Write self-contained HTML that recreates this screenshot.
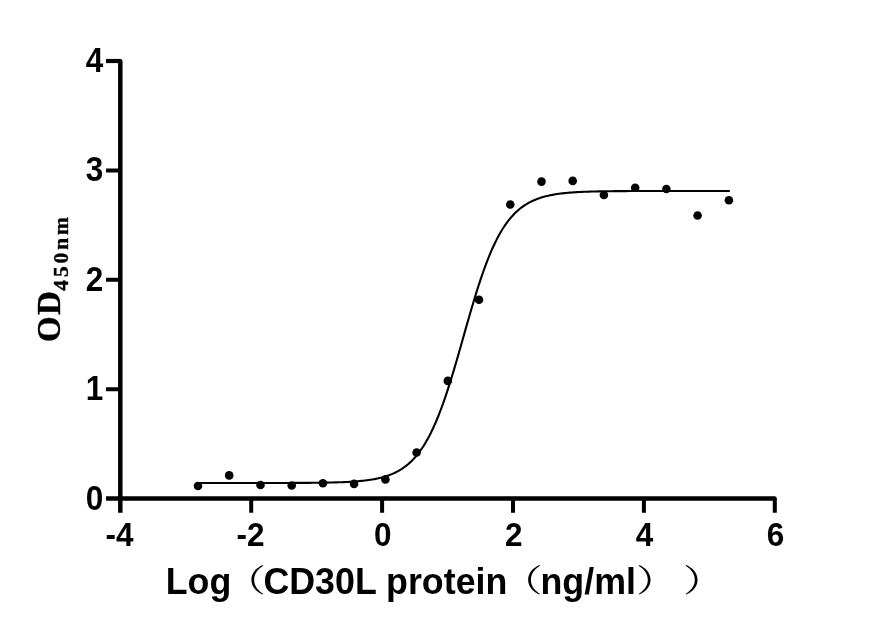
<!DOCTYPE html>
<html><head><meta charset="utf-8"><title>CD30L binding curve</title>
<style>
html,body{margin:0;padding:0;background:#fff;}
body{width:875px;height:633px;overflow:hidden;}
svg{display:block;}
.a{font-family:"Liberation Sans",sans-serif;font-weight:bold;font-size:31.5px;fill:#000;}
.t{font-size:35.8px;}
.p{font-family:"Noto Serif CJK SC","Noto Sans CJK SC",serif;font-weight:normal;font-size:31.6px;fill:#000;}
.s{font-family:"Liberation Serif",serif;font-weight:bold;font-size:33px;fill:#000;stroke:#000;stroke-width:0.35px;}
.sub{font-size:21.5px;letter-spacing:2.9px;}
</style></head><body>
<svg width="875" height="633" viewBox="0 0 875 633">
<rect width="875" height="633" fill="#fff"/>
<path d="M197.88,483.00 L199.66,483.00 L201.44,483.00 L203.22,483.00 L204.99,483.00 L206.77,483.00 L208.55,483.00 L210.33,483.00 L212.11,483.00 L213.89,483.00 L215.67,483.00 L217.45,483.00 L219.23,483.00 L221.01,483.00 L222.79,483.00 L224.56,483.00 L226.34,483.00 L228.12,483.00 L229.90,483.00 L231.68,483.00 L233.46,483.00 L235.24,482.99 L237.02,482.99 L238.80,482.99 L240.58,482.99 L242.36,482.99 L244.14,482.99 L245.91,482.99 L247.69,482.99 L249.47,482.99 L251.25,482.99 L253.03,482.99 L254.81,482.99 L256.59,482.99 L258.37,482.99 L260.15,482.98 L261.93,482.98 L263.71,482.98 L265.48,482.98 L267.26,482.98 L269.04,482.98 L270.82,482.97 L272.60,482.97 L274.38,482.97 L276.16,482.97 L277.94,482.96 L279.72,482.96 L281.50,482.96 L283.28,482.95 L285.05,482.95 L286.83,482.94 L288.61,482.94 L290.39,482.93 L292.17,482.93 L293.95,482.92 L295.73,482.91 L297.51,482.90 L299.29,482.90 L301.07,482.89 L302.85,482.88 L304.63,482.87 L306.40,482.85 L308.18,482.84 L309.96,482.83 L311.74,482.81 L313.52,482.79 L315.30,482.77 L317.08,482.75 L318.86,482.73 L320.64,482.71 L322.42,482.68 L324.20,482.65 L325.97,482.62 L327.75,482.59 L329.53,482.55 L331.31,482.51 L333.09,482.47 L334.87,482.42 L336.65,482.37 L338.43,482.31 L340.21,482.25 L341.99,482.18 L343.77,482.11 L345.55,482.03 L347.32,481.94 L349.10,481.85 L350.88,481.75 L352.66,481.63 L354.44,481.51 L356.22,481.38 L358.00,481.23 L359.78,481.07 L361.56,480.90 L363.34,480.72 L365.12,480.51 L366.89,480.29 L368.67,480.05 L370.45,479.79 L372.23,479.50 L374.01,479.19 L375.79,478.85 L377.57,478.49 L379.35,478.09 L381.13,477.65 L382.91,477.18 L384.69,476.67 L386.46,476.11 L388.24,475.51 L390.02,474.85 L391.80,474.14 L393.58,473.37 L395.36,472.54 L397.14,471.64 L398.92,470.66 L400.70,469.60 L402.48,468.45 L404.26,467.21 L406.04,465.88 L407.81,464.44 L409.59,462.88 L411.37,461.21 L413.15,459.40 L414.93,457.47 L416.71,455.39 L418.49,453.16 L420.27,450.77 L422.05,448.22 L423.83,445.49 L425.61,442.59 L427.38,439.49 L429.16,436.21 L430.94,432.72 L432.72,429.03 L434.50,425.14 L436.28,421.04 L438.06,416.73 L439.84,412.22 L441.62,407.50 L443.40,402.58 L445.18,397.46 L446.96,392.16 L448.73,386.69 L450.51,381.05 L452.29,375.26 L454.07,369.34 L455.85,363.31 L457.63,357.18 L459.41,350.98 L461.19,344.73 L462.97,338.45 L464.75,332.16 L466.53,325.90 L468.30,319.67 L470.08,313.50 L471.86,307.43 L473.64,301.45 L475.42,295.60 L477.20,289.89 L478.98,284.34 L480.76,278.95 L482.54,273.75 L484.32,268.74 L486.10,263.92 L487.88,259.31 L489.65,254.91 L491.43,250.71 L493.21,246.72 L494.99,242.94 L496.77,239.36 L498.55,235.98 L500.33,232.80 L502.11,229.81 L503.89,227.00 L505.67,224.37 L507.45,221.90 L509.22,219.60 L511.00,217.45 L512.78,215.45 L514.56,213.58 L516.34,211.85 L518.12,210.24 L519.90,208.75 L521.68,207.36 L523.46,206.08 L525.24,204.89 L527.02,203.79 L528.79,202.78 L530.57,201.84 L532.35,200.97 L534.13,200.17 L535.91,199.44 L537.69,198.76 L539.47,198.13 L541.25,197.55 L543.03,197.02 L544.81,196.53 L546.59,196.08 L548.37,195.66 L550.14,195.28 L551.92,194.93 L553.70,194.61 L555.48,194.31 L557.26,194.04 L559.04,193.79 L560.82,193.56 L562.60,193.34 L564.38,193.15 L566.16,192.97 L567.94,192.81 L569.71,192.66 L571.49,192.52 L573.27,192.39 L575.05,192.27 L576.83,192.17 L578.61,192.07 L580.39,191.98 L582.17,191.89 L583.95,191.82 L585.73,191.75 L587.51,191.68 L589.29,191.62 L591.06,191.57 L592.84,191.52 L594.62,191.47 L596.40,191.43 L598.18,191.39 L599.96,191.36 L601.74,191.33 L603.52,191.30 L605.30,191.27 L607.08,191.25 L608.86,191.22 L610.63,191.20 L612.41,191.18 L614.19,191.16 L615.97,191.15 L617.75,191.13 L619.53,191.12 L621.31,191.11 L623.09,191.10 L624.87,191.08 L626.65,191.08 L628.43,191.07 L630.20,191.06 L631.98,191.05 L633.76,191.04 L635.54,191.04 L637.32,191.03 L639.10,191.03 L640.88,191.02 L642.66,191.02 L644.44,191.01 L646.22,191.01 L648.00,191.01 L649.78,191.00 L651.55,191.00 L653.33,191.00 L655.11,190.99 L656.89,190.99 L658.67,190.99 L660.45,190.99 L662.23,190.99 L664.01,190.98 L665.79,190.98 L667.57,190.98 L669.35,190.98 L671.12,190.98 L672.90,190.98 L674.68,190.98 L676.46,190.98 L678.24,190.98 L680.02,190.98 L681.80,190.97 L683.58,190.97 L685.36,190.97 L687.14,190.97 L688.92,190.97 L690.70,190.97 L692.47,190.97 L694.25,190.97 L696.03,190.97 L697.81,190.97 L699.59,190.97 L701.37,190.97 L703.15,190.97 L704.93,190.97 L706.71,190.97 L708.49,190.97 L710.27,190.97 L712.04,190.97 L713.82,190.97 L715.60,190.97 L717.38,190.97 L719.16,190.97 L720.94,190.97 L722.72,190.97 L724.50,190.97 L726.28,190.97 L728.06,190.97 L729.84,190.97" fill="none" stroke="#000" stroke-width="2.1" stroke-linejoin="round"/>
<circle cx="198.0" cy="486.0" r="4.3"/>
<circle cx="229.2" cy="475.4" r="4.3"/>
<circle cx="260.5" cy="485.0" r="4.3"/>
<circle cx="291.7" cy="485.5" r="4.3"/>
<circle cx="322.9" cy="483.2" r="4.3"/>
<circle cx="354.1" cy="483.9" r="4.3"/>
<circle cx="385.4" cy="479.4" r="4.3"/>
<circle cx="416.6" cy="452.5" r="4.3"/>
<circle cx="447.8" cy="380.9" r="4.3"/>
<circle cx="479.0" cy="299.8" r="4.3"/>
<circle cx="510.3" cy="204.5" r="4.3"/>
<circle cx="541.5" cy="181.6" r="4.3"/>
<circle cx="572.7" cy="180.9" r="4.3"/>
<circle cx="603.9" cy="195.0" r="4.3"/>
<circle cx="635.2" cy="187.7" r="4.3"/>
<circle cx="666.4" cy="189.0" r="4.3"/>
<circle cx="697.6" cy="215.5" r="4.3"/>
<circle cx="728.9" cy="200.3" r="4.3"/>
<path d="M120.3,61.15 V498.6 M120.3,498.6 H774.55" fill="none" stroke="#000" stroke-width="4.5" stroke-linecap="round"/>
<path d="M120.3,498.6 V512.85 M106.05,498.6 H120.3" fill="none" stroke="#000" stroke-width="4.5"/>
<path d="M106.05,61.00 H120.3" fill="none" stroke="#000" stroke-width="4.2"/>
<path d="M106.05,389.20 H120.3 M106.05,279.80 H120.3 M106.05,170.40 H120.3 M251.20,498.6 V512.85 M382.10,498.6 V512.85 M513.00,498.6 V512.85 M643.90,498.6 V512.85 M774.80,498.6 V512.85" fill="none" stroke="#000" stroke-width="4.0"/>
<text class="a" transform="translate(103.3,509.6) scale(1,1.09)" text-anchor="end">0</text>
<text class="a" transform="translate(103.3,400.2) scale(1,1.09)" text-anchor="end">1</text>
<text class="a" transform="translate(103.3,290.8) scale(1,1.09)" text-anchor="end">2</text>
<text class="a" transform="translate(103.3,181.4) scale(1,1.09)" text-anchor="end">3</text>
<text class="a" transform="translate(103.3,72.0) scale(1,1.09)" text-anchor="end">4</text>
<text class="a" transform="translate(119.6,545.8) scale(1,1.08)" text-anchor="middle">-4</text>
<text class="a" transform="translate(250.5,545.8) scale(1,1.08)" text-anchor="middle">-2</text>
<text class="a" transform="translate(382.8,545.8) scale(1,1.08)" text-anchor="middle">0</text>
<text class="a" transform="translate(513.7,545.8) scale(1,1.08)" text-anchor="middle">2</text>
<text class="a" transform="translate(644.6,545.8) scale(1,1.08)" text-anchor="middle">4</text>
<text class="a" transform="translate(775.5,545.8) scale(1,1.08)" text-anchor="middle">6</text>
<text class="a t" transform="translate(165.7,594.0) scale(1,1.045)">Log</text>
<text class="p" transform="translate(224.3,592.4) scale(1.32,1)">（</text>
<text class="a t" transform="translate(263.4,594.0) scale(1,1.045)">CD30L protein</text>
<text class="p" transform="translate(501.0,592.4) scale(1.32,1)">（</text>
<text class="a t" transform="translate(540.5,594.0) scale(1,1.045)">ng/ml</text>
<text class="p" transform="translate(635.9,592.4) scale(1.32,1)">）</text>
<text class="p" transform="translate(682.9,592.4) scale(1.32,1)">）</text>
<g transform="translate(60.4,342) rotate(-90)"><text class="s" x="0 27" y="0" transform="scale(1,1.03)">OD</text><text class="s sub" x="51.3" y="7.6">450nm</text></g>
</svg>
</body></html>
